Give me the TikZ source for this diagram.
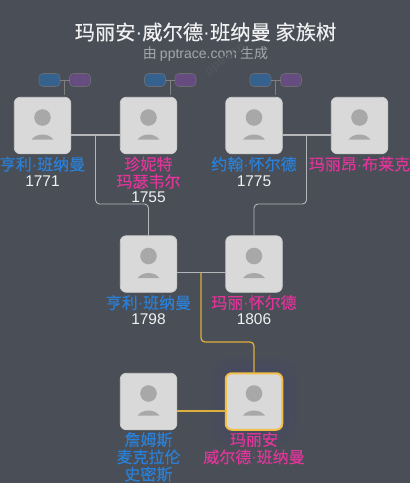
\documentclass[tikz,border=0pt]{standalone}
\usepackage{fontspec}
\setmainfont{Liberation Sans}
\newfontfamily\cjk[FakeBold=0.25]{Noto Sans CJK SC}
\newfontfamily\cjkr{Noto Sans CJK SC}
\newcommand{\dotc}{{\fontspec{Liberation Sans}·}}
\usetikzlibrary{calc}
\definecolor{bg}{HTML}{4A4F57}
\definecolor{boxc}{HTML}{D9D9D9}
\definecolor{icon}{HTML}{A8A8A8}
\definecolor{male}{HTML}{2A80D8}
\definecolor{female}{HTML}{E0359A}
\definecolor{gold}{HTML}{DDAF3C}
\definecolor{focus}{HTML}{F2BE45}
\definecolor{lnk}{HTML}{B4B6B9}
\definecolor{blueb}{HTML}{35618F}
\definecolor{purpb}{HTML}{664C80}
\tikzset{
 x=1pt,y=-1pt,
 person/.style={draw=#1,line width=0.8pt,fill=boxc,rounded corners=6pt,minimum width=56.5pt,minimum height=56.5pt,inner sep=0pt,outer sep=0pt},
 person/.default={boxc!85!gray},
 namem/.style={text=male,font=\cjk\fontsize{16}{17.3}\selectfont,align=center,inner sep=0pt,anchor=north},
 namef/.style={text=female,font=\cjk\fontsize{16}{17.3}\selectfont,align=center,inner sep=0pt,anchor=north},
 yearl/.style={text=white!94!black,font=\fontsize{15.5}{16}\selectfont,inner sep=0pt},
 lnkl/.style={draw=lnk,line width=1.1pt},
 thin link/.style={draw=lnk,line width=0.9pt,rounded corners=4pt},
 goldl/.style={draw=gold,line width=1.3pt,rounded corners=4pt},
 mini/.style={draw=gray!60!bg,line width=0.6pt,rounded corners=4pt,minimum width=21pt,minimum height=13pt,inner sep=0pt,outer sep=0pt},
 miniline/.style={draw=gray,line width=0.7pt},
}
\newcommand{\avatar}[1]{%
 \fill[icon] ($(#1)+(0,-8)$) circle (8.3pt);
 \fill[icon] ($(#1)+(-10.8,14)$) .. controls ($(#1)+(-6.5,7.4)$) and ($(#1)+(6.5,7.4)$) .. ($(#1)+(10.8,14)$) -- cycle;
}
\begin{document}
\begin{tikzpicture}
\useasboundingbox (0,0) rectangle (410,483);
\fill[bg] (0,0) rectangle (410,483);
\node[text=white!94!black,font=\cjk\fontsize{20.3}{22}\selectfont,inner sep=0pt] (title) at (205.5,32) {玛丽安\dotc 威尔德\dotc 班纳曼 家族树};
\node[text=white!50!bg,font=\cjkr\fontsize{14}{16}\selectfont,inner sep=0pt] (sub) at (205.5,54) {由 {\fontspec{Liberation Sans}pptrace.com} 生成};
\node[text=white!4!bg,font=\fontsize{13}{15}\selectfont\bfseries,rotate=38,inner sep=0pt] (wm) at (225,60) {pptrace};

\foreach \r in {44,40,36,32}{\fill[blue!55!bg,opacity=0.022,rounded corners=18pt] (254-\r,401.5-\r) rectangle (254+\r,401.5+\r);}

\node[person] (a) at (42.5,125.5) {};
\node[person] (b) at (148.5,125.5) {};
\node[person] (c) at (254,125.5) {};
\node[person] (d) at (359.5,125.5) {};
\node[person] (e) at (148.5,264) {};
\node[person] (f) at (254,264) {};
\node[person] (g) at (148.5,401.5) {};
\node[person,draw=focus,line width=2pt] (h) at (254,401.5) {};
\foreach \n in {a,b,c,d,e,f,g,h}{\avatar{\n}}

% connectors
\coordinate (ab) at (95.5,135);
\coordinate (cd) at (306.5,135);
\coordinate (ef) at (201,272.5);
\coordinate (gh) at (201,411);
\draw[lnkl] (a.east|-ab) -- (b.west|-ab);
\draw[lnkl] (c.east|-cd) -- (d.west|-cd);
\draw[lnkl] (e.east|-ef) -- (f.west|-ef);
\draw[thin link] (ab) -- (95.5,204) -- (148.5,204) -- (e.north);
\draw[thin link] (cd) -- (306.5,204) -- (254,204) -- (f.north);
\draw[goldl] (ef) -- (201,342) -- (254,342) -- (h.north);
\draw[goldl] (g.east|-gh) -- (h.west|-gh);

% mini parents
\node[mini,fill=blueb] (a1) at (49.5,80) {};
\node[mini,fill=purpb] (a2) at (80,80) {};
\node[mini,fill=blueb] (b1) at (155,80) {};
\node[mini,fill=purpb] (b2) at (185.5,80) {};
\node[mini,fill=blueb] (c1) at (260.5,80) {};
\node[mini,fill=purpb] (c2) at (291,80) {};
\coordinate (a0) at (64.5,80);
\coordinate (b0) at (170.5,80);
\coordinate (c0) at (275.5,80);
\draw[miniline] (a1) -- (a2) (a0) -- (64.5,95);
\draw[miniline] (b1) -- (b2) (b0) -- (170.5,95);
\draw[miniline] (c1) -- (c2) (c0) -- (275.5,95);

% labels
\node[namem] (la) at (42.5,156.5) {亨利\dotc 班纳曼};
\node[yearl] (ya) at (42.5,181.5) {1771};
\node[namef] (lb) at (148.5,156.5) {珍妮特\\玛瑟韦尔};
\node[yearl] (yb) at (148.5,197.5) {1755};
\node[namem] (lc) at (254,156.5) {约翰\dotc 怀尔德};
\node[yearl] (yc) at (254,181.5) {1775};
\node[namef] (ld) at (359.5,156.5) {玛丽昂\dotc 布莱克};
\node[namem] (le) at (148.5,295) {亨利\dotc 班纳曼};
\node[yearl] (ye) at (148.5,319.5) {1798};
\node[namef] (lf) at (254,295) {玛丽\dotc 怀尔德};
\node[yearl] (yf) at (254,319.5) {1806};
\node[namem] (lg) at (148.5,432) {詹姆斯\\麦克拉伦\\史密斯};
\node[namef] (lh) at (254,432) {玛丽安\\威尔德\dotc 班纳曼};
\end{tikzpicture}
\end{document}
